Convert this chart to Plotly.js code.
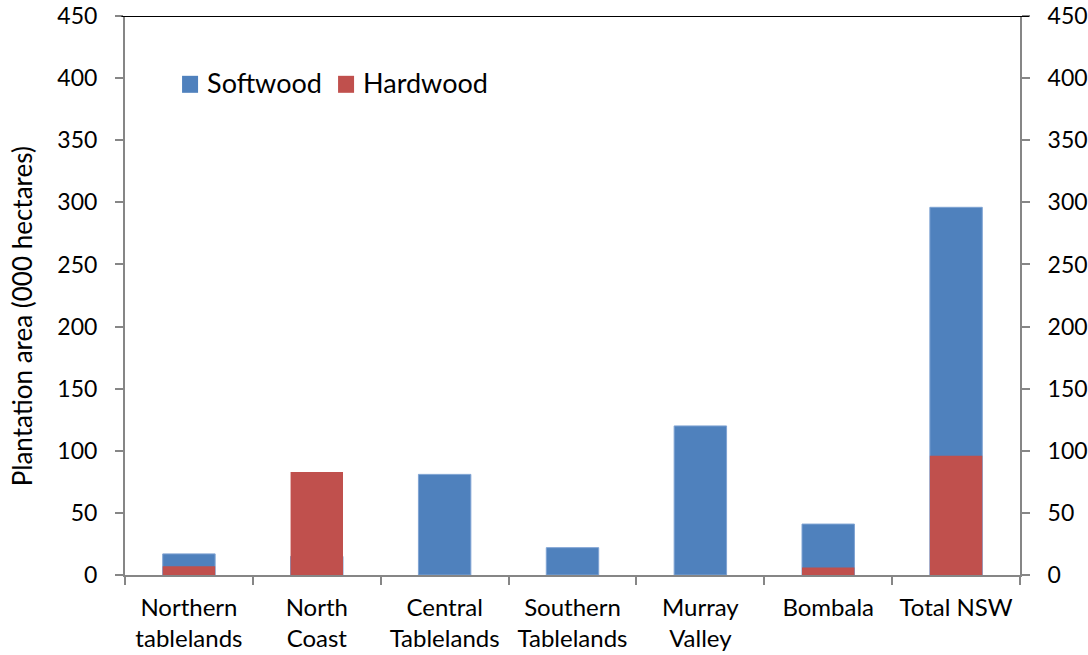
<!DOCTYPE html>
<html>
<head>
<meta charset="utf-8">
<script src="https://cdn.plot.ly/plotly-3.0.1.min.js"></script>
<style>html,body{margin:0;padding:0;background:#fff;}#chart{width:1088px;height:655px;}</style>
</head>
<body>
<div id="chart"></div>
<script>
var categories = ["Northern<br>tablelands", "North<br>Coast", "Central<br>Tablelands", "Southern<br>Tablelands", "Murray<br>Valley", "Bombala", "Total NSW"];
var softwood = [17, 15, 81, 22, 120, 41, 296];
var hardwood = [7, 83, 0, 0, 0, 6, 96];
var yTicks = [0, 50, 100, 150, 200, 250, 300, 350, 400, 450];
var yTitle = "Plantation area (000 hectares)";

var FONT = "Lato, 'Open Sans', sans-serif";
var gray = "#868686";

var data = [
  {type: "bar", name: "Softwood", x: categories, y: softwood, width: 0.41,
   marker: {color: "#4F81BD", line: {color: "#7FA3D3", width: 1}}, hoverinfo: "y"},
  {type: "bar", name: "Hardwood", x: categories, y: hardwood, width: 0.41,
   marker: {color: "#C0504D", line: {color: "#C0504D", width: 0}}, hoverinfo: "y"},
  {type: "bar", name: "axis2", x: categories, y: softwood, yaxis: "y2", opacity: 0,
   showlegend: false, hoverinfo: "skip", width: 0.41}
];

var yCommon = {range: [0, 450], tickvals: yTicks, ticktext: yTicks.map(String),
  showgrid: false, zeroline: false, showline: true, linecolor: gray, linewidth: 2,
  ticks: "outside", ticklen: 8, tickwidth: 2, tickcolor: gray, ticklabelstandoff: 13,
  tickfont: {family: FONT, size: 23, color: "#000"}, fixedrange: true};

var layout = {
  width: 1088, height: 655,
  margin: {l: 125, r: 68, t: 16, b: 80},
  paper_bgcolor: "#fff", plot_bgcolor: "#fff",
  barmode: "overlay",
  font: {family: FONT, size: 23, color: "#000"},
  showlegend: true,
  legend: {orientation: "h", x: 0.047, y: 0.9235, xanchor: "left", yanchor: "top",
           font: {family: FONT, size: 27, color: "#000"}, traceorder: "normal",
           entrywidth: 111, entrywidthmode: "pixels",
           itemwidth: 30, bgcolor: "rgba(0,0,0,0)"},
  xaxis: {type: "category", showgrid: false, zeroline: false,
          showline: true, linecolor: gray, linewidth: 2,
          ticks: "outside", tickson: "boundaries", ticklen: 8, tickwidth: 2, tickcolor: gray,
          ticklabelstandoff: 10,
          tickfont: {family: FONT, size: 24, color: "#000"}, fixedrange: true},
  yaxis: Object.assign({}, yCommon),
  yaxis2: Object.assign({}, yCommon, {overlaying: "y", side: "right"}),
  shapes: [{type: "line", xref: "paper", yref: "y", x0: -0.004, x1: 1.01, y0: 450, y1: 450,
            line: {color: "#000", width: 2}}],
  annotations: [{text: yTitle, xref: "paper", yref: "paper", x: -0.115, y: 0.463,
                 xanchor: "center", yanchor: "middle", textangle: -90, showarrow: false,
                 font: {family: FONT, size: 26, color: "#000"}}]
};

function fixLegend() {
  document.querySelectorAll("#chart .legendpoints path").forEach(function (p) {
    p.removeAttribute("transform");
    p.setAttribute("d", "M31,10H15V-7H31Z");
    p.style.strokeWidth = "0px";
  });
  document.querySelectorAll("#chart .legend [clip-path]").forEach(function (el) {
    el.removeAttribute("clip-path");
  });
}
Plotly.newPlot("chart", data, layout, {displayModeBar: false, staticPlot: true}).then(function (gd) {
  fixLegend();
  gd.on("plotly_afterplot", fixLegend);
});
</script>
</body>
</html>
